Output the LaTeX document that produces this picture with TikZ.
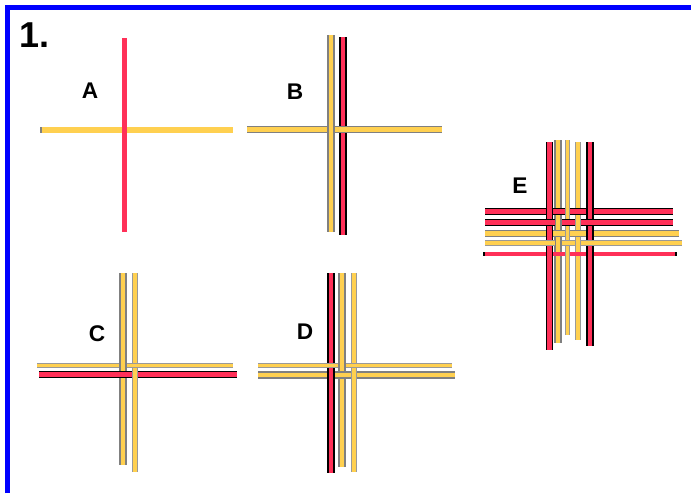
\documentclass[tikz,border=0pt]{standalone}
\usepackage{fontspec}
\setmainfont{Liberation Sans}
\definecolor{stripyel}{RGB}{255,208,80}
\definecolor{stripred}{RGB}{255,48,88}
\definecolor{stripgray}{RGB}{128,128,128}
\begin{document}
\begin{tikzpicture}[x=0.75pt,y=-0.75pt,
    lbl/.style={font=\bfseries\fontsize{17}{17}\selectfont},
    yel/.style={draw=stripgray,line width=1.1pt,double=stripyel,double distance=3.1pt},
    yelthin/.style={draw=stripgray!80,line width=0.7pt,double=stripyel,double distance=2.6pt},
    red/.style={draw=black,line width=1.1pt,double=stripred,double distance=3.1pt},
    redplain/.style={draw=stripred,line width=3.4pt}]
        \useasboundingbox (0,0) rectangle (691,493);
        % frame
        \draw[blue,line width=3.75pt] (7.5,493) -- (7.5,7.5) -- (691,7.5);
        \node[font=\bfseries\fontsize{27}{27}\selectfont,anchor=north west,inner sep=0pt] (num) at (19,22) {1.};
        % A
        \draw[stripgray,line width=4.5pt] (40,130) -- (42,130);
        \draw[stripyel,line width=4.5pt] (42,130) -- (233,130);
        \draw[stripred,line width=3.75pt] (124,38) -- (124,232);
        \node[lbl] (labA) at (90,91) {A};
        % B
        \draw[red] (343,37) -- (343,235);
        \draw[yel] (247,129.5) -- (442,129.5);
        \draw[yel] (331,35) -- (331,232);
        \node[lbl] (labB) at (295,92) {B};
        % C
        \draw[yelthin] (37,365.5) -- (233,365.5);
        \draw[red] (39,374.5) -- (237,374.5);
        \draw[yel] (123,273) -- (123,465);
        \draw[yelthin] (135,273) -- (135,472);
        \draw[yelthin] (131,365.5) -- (139,365.5);
        \draw[red] (118,374.5) -- (128,374.5);
        \node[lbl] (labC) at (97,334) {C};
        % D
        \draw[yelthin] (258,365.5) -- (452,365.5);
        \draw[yel] (258,375) -- (455,375);
        \draw[red] (331,273) -- (331,473);
        \draw[yel] (342,273) -- (342,467);
        \draw[yelthin] (354,273) -- (354,472);
        \draw[yelthin] (326,365.5) -- (336,365.5);
        \draw[yelthin] (350,365.5) -- (358,365.5);
        \draw[yel] (337,375) -- (347,375);
        \node[lbl] (labD) at (305,332) {D};
        % E
        \foreach \y/\s/\xa/\xb in {211.5/red/485/673, 222.5/red/485/673,
            233.5/yel/485/679, 243/yelthin/485/682}
            \draw[\s] (\xa,\y) -- (\xb,\y);
        \draw[black,line width=3.4pt] (483,254) -- (677,254);
        \draw[redplain] (485,254) -- (675,254);
        \foreach \x/\s/\ya/\yb in {549.5/red/142/350, 558/yel/140/343,
            567.5/yelthin/140/335, 578/yelthin/142/340, 590/red/142/346}
            \draw[\s] (\x,\ya) -- (\x,\yb);
        % weave over the verticals
        \foreach \y/\s [count=\i] in {211.5/red, 222.5/red, 233.5/yel, 243/yelthin, 254/redplain}
            \foreach \x [count=\j] in {549.5,558,567.5,578,590} {
                \pgfmathtruncatemacro\wv{mod(\i+\j,2)}
                \ifnum\wv=1
                    \draw[\s] (\x-5,\y) -- (\x+5,\y);
                \fi
            };
        \node[lbl] (labE) at (520,186) {E};
    \end{tikzpicture}
\end{document}
